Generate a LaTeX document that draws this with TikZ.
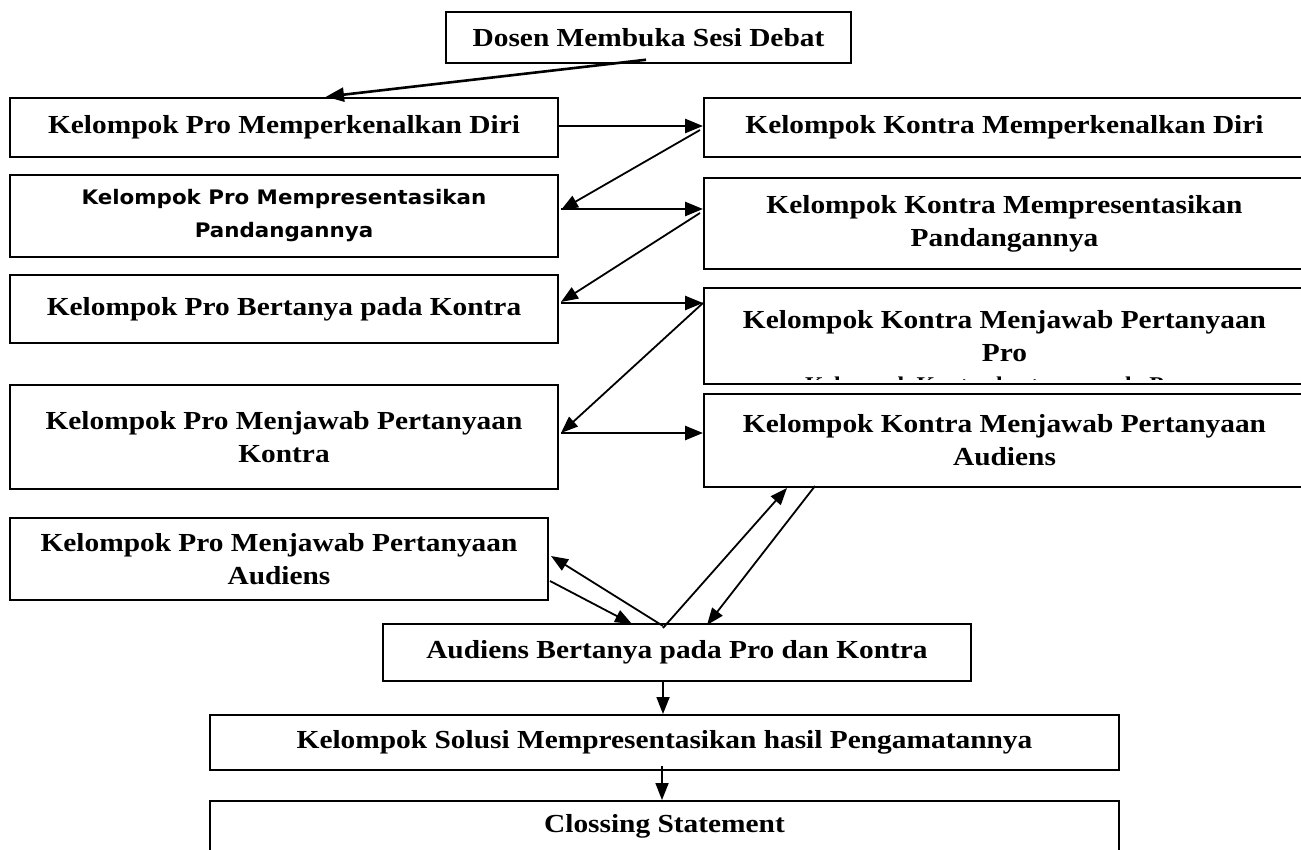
\documentclass[tikz,border=0pt]{standalone}
\usepackage{fontspec}
\newfontfamily\tnr{Liberation Serif}[FakeStretch=1.13]
\newfontfamily\dvs{DejaVu Sans}[FakeStretch=1.07]
\usetikzlibrary{arrows.meta,calc}
\begin{document}
\begin{tikzpicture}[x=1pt,y=-1pt,
  box/.style={draw, line width=2pt, rectangle, inner sep=0pt, align=center,
    font=\tnr\bfseries\fontsize{26}{33}\selectfont},
  sbox/.style={box, font=\dvs\bfseries\fontsize{20}{33}\selectfont},
  arr/.style={line width=2.6pt, -{Triangle[length=18pt,width=14pt]}},
  tarr/.style={line width=1.8pt, -{Triangle[length=17pt,width=13pt]}}]
\useasboundingbox (0,0) rectangle (1301,850);

\node[box, line width=1.5pt, minimum width=405pt, minimum height=51pt] (dosen) at (648.5,37.5) {Dosen Membuka Sesi Debat};

\node[box, line width=2.6pt, minimum width=548pt, minimum height=59pt] (pro1) at (284,127.5) {Kelompok Pro Memperkenalkan Diri};
\node[box, minimum width=601pt, minimum height=59pt] (kontra1) at (1004.5,127.5) {Kelompok Kontra Memperkenalkan Diri};

\node[sbox, minimum width=548pt, minimum height=82pt] (pro2) at (284,216) {Kelompok Pro Mempresentasikan\\Pandangannya};
\node[box, minimum width=601pt, minimum height=91pt] (kontra2) at (1004.5,223.5) {Kelompok Kontra Mempresentasikan\\Pandangannya};

\node[box, minimum width=548pt, minimum height=68pt] (pro3) at (284,309) {Kelompok Pro Bertanya pada Kontra};
\node[box, minimum width=601pt, minimum height=96pt] (kontra3) at (1004.5,336) {Kelompok Kontra Menjawab Pertanyaan\\Pro};
\begin{scope}
  \clip ($(kontra3.north west)+(2,2)$) rectangle ($(kontra3.south east)+(-2,-6)$);
  \node[anchor=base, inner sep=0pt, font=\tnr\bfseries\fontsize{21}{25}\selectfont] (k3hidden) at ($(kontra3.south)+(-9,6)$) {Kelompok Kontra bertanya pada Pro};
\end{scope}

\node[box, minimum width=548pt, minimum height=104pt] (pro4) at (284,437) {Kelompok Pro Menjawab Pertanyaan\\Kontra};
\node[box, minimum width=601pt, minimum height=93pt] (kontra4) at (1004.5,440.5) {Kelompok Kontra Menjawab Pertanyaan\\Audiens};

\node[box, minimum width=538pt, minimum height=82pt] (pro5) at (279,559) {Kelompok Pro Menjawab Pertanyaan\\Audiens};

\node[box, minimum width=588pt, minimum height=57pt] (aud) at (677,652.5) {Audiens Bertanya pada Pro dan Kontra};
\node[box, minimum width=909pt, minimum height=55pt] (sol) at (664.5,742.5) {Kelompok Solusi Mempresentasikan hasil Pengamatannya};
\node[box, minimum width=909pt, minimum height=64pt, text depth=20pt] (close) at (664.5,833) {Clossing Statement};

% upper connectors
\draw[arr] ($(dosen.south)+(-2.5,-4)$) -- ($(pro1.north)+(42,0)$);
\draw[arr] ($(pro1.east)+(0,-1.5)$) -- ($(kontra1.west)+(0,-1.5)$);
\draw[tarr] ($(kontra1.west)+(-3,2.5)$) -- ($(pro2.east)+(2,-6)$);
\draw[arr] ($(pro2.east)+(2,-7)$) -- ($(kontra2.west)+(0,-14.5)$);
\draw[tarr] ($(kontra2.west)+(-3,-10.5)$) -- ($(pro3.east)+(2,-7)$);
\draw[arr] ($(pro3.east)+(2,-6)$) -- ($(kontra3.west)+(0,-33)$);
\draw[tarr] ($(kontra3.west)+(0,-33)$) -- ($(pro4.east)+(2,-4)$);
\draw[arr] ($(pro4.east)+(2,-4)$) -- ($(kontra4.west)+(0,-7.5)$);

% lower connectors
\draw[tarr] ($(pro5.east)+(1,22)$) -- ($(aud.north)+(-45,1)$);
\draw[tarr] ($(aud.north)+(-14,3)$) -- ($(pro5.east)+(2,-3)$);
\draw[tarr] ($(aud.north)+(-14,5)$) -- ($(kontra4.south west)+(84,0)$);
\draw[tarr] ($(kontra4.south west)+(112,-2)$) -- ($(aud.north)+(30,2)$);
\draw[tarr] ($(aud.south)+(-14,0)$) -- ($(sol.north)+(-1.5,0)$);
\draw[tarr] ($(sol.south)+(-2.5,-5)$) -- ($(close.north)+(-2.5,0)$);
\end{tikzpicture}
\end{document}
